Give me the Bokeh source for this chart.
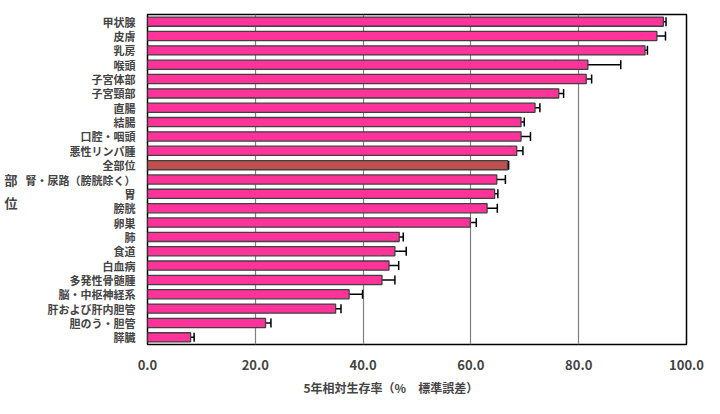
from bokeh.plotting import figure
from bokeh.models import (ColumnDataSource, FactorRange, Range1d, FixedTicker,
                          PrintfTickFormatter, Whisker, TeeHead, Title)
from bokeh.embed import file_html
from bokeh.resources import INLINE

sites = ["甲状腺", "皮膚", "乳房", "喉頭", "子宮体部", "子宮頸部", "直腸", "結腸",
         "口腔・咽頭", "悪性リンパ腫", "全部位", "腎・尿路（膀胱除く）", "胃", "膀胱",
         "卵巣", "肺", "食道", "白血病", "多発性骨髄腫", "脳・中枢神経系",
         "肝および肝内胆管", "胆のう・胆管", "膵臓"]
survival = [95.7, 94.5, 92.3, 81.7, 81.4, 76.3, 71.9, 69.3,
            69.3, 68.5, 66.8, 64.8, 64.4, 63.0,
            59.9, 46.7, 45.9, 44.8, 43.5, 37.4,
            34.9, 21.9, 8.0]
std_err = [0.5, 1.6, 0.45, 6.1, 1.0, 0.9, 0.9, 0.6,
           1.75, 1.15, 0.2, 1.6, 0.6, 1.9,
           1.1, 0.75, 2.1, 1.8, 2.4, 2.5,
           1.0, 1.0, 0.65]
x_ticks = [0, 20, 40, 60, 80, 100]
x_title = "5年相対生存率（%　標準誤差）"
y_title = "\n部\n位"

W, H = 716, 410

colors = ["#C0504D" if s == "全部位" else "#FF3399" for s in sites]
src = ColumnDataSource(dict(
    site=sites, val=survival,
    lo=[v - e for v, e in zip(survival, std_err)],
    hi=[v + e for v, e in zip(survival, std_err)],
    color=colors))

p = figure(width=W, height=H, output_backend="svg", toolbar_location=None,
           y_range=FactorRange(factors=list(reversed(sites))),
           x_range=Range1d(0, 100),
           min_border_left=147, min_border_right=W - 686, min_border_top=14,
           min_border_bottom=H - 344)

p.hbar(y="site", right="val", left=0, height=0.64, source=src,
       fill_color="color", line_color="#404040", line_width=1.3)

w = Whisker(base="site", lower="lo", upper="hi", dimension="width", source=src,
            line_color="black", line_width=1.5,
            lower_head=TeeHead(size=9, line_color="black", line_width=1.5),
            upper_head=TeeHead(size=9, line_color="black", line_width=1.5))
p.add_layout(w)

p.outline_line_color = "black"
p.outline_line_width = 1.5
p.ygrid.grid_line_color = None
p.xgrid.grid_line_color = "#808080"
p.xgrid.grid_line_width = 1.2

p.xaxis.ticker = FixedTicker(ticks=x_ticks)
p.xaxis.formatter = PrintfTickFormatter(format="%.1f")
p.xaxis.major_label_text_font = "Noto Sans CJK JP"
p.xaxis.major_label_text_font_style = "bold"
p.xaxis.major_label_text_font_size = "13px"
p.xaxis.major_label_standoff = 9
p.xaxis.axis_line_color = None
p.xaxis.major_tick_line_color = None
p.xaxis.minor_tick_line_color = None

p.yaxis.major_label_text_font = "Noto Sans CJK JP"
p.yaxis.major_label_text_font_style = "bold"
p.yaxis.major_label_text_font_size = "11px"
p.yaxis.major_label_standoff = 6
p.yaxis.axis_line_color = None
p.yaxis.major_tick_line_color = None
p.yaxis.minor_tick_line_color = None
p.yaxis.axis_label = y_title
p.yaxis.axis_label_orientation = "horizontal"
p.yaxis.axis_label_text_font = "Noto Sans CJK JP"
p.yaxis.axis_label_text_font_style = "bold"
p.yaxis.axis_label_text_font_size = "13px"
p.yaxis.axis_label_standoff = 5

p.add_layout(Title(text=x_title, align="left", offset=156, standoff=8,
                   text_font="Noto Sans CJK JP", text_font_style="bold",
                   text_font_size="12px"), "below")

open("out.html", "w").write(file_html(p, INLINE))
